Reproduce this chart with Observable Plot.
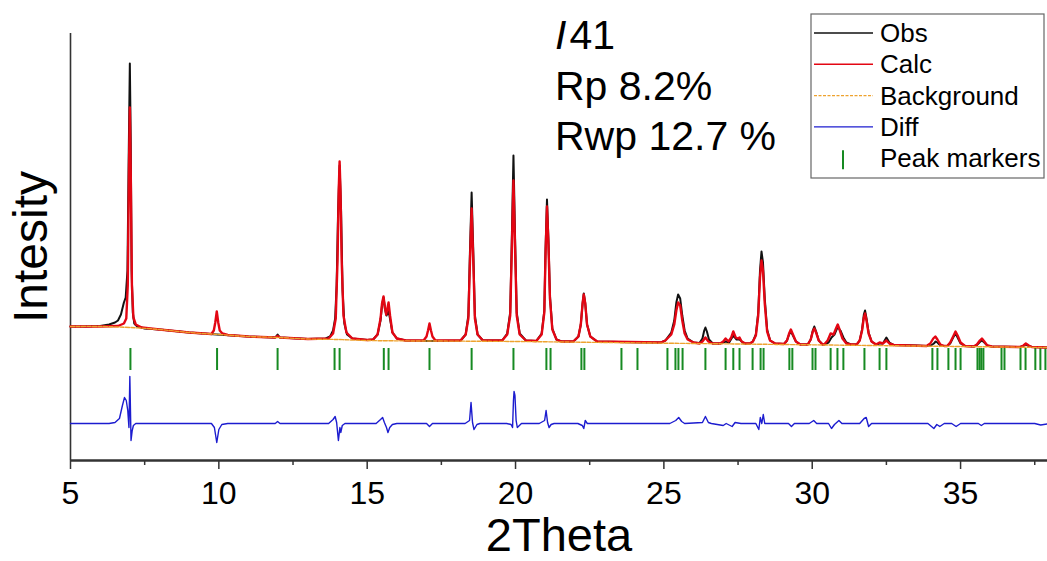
<!DOCTYPE html>
<html>
<head>
<meta charset="utf-8">
<script src="https://cdn.jsdelivr.net/npm/d3@7"></script>
<script src="https://cdn.jsdelivr.net/npm/@observablehq/plot@0.6"></script>
<style>
  html, body { margin: 0; padding: 0; background: #fff; }
  #chart { width: 1047px; height: 561px; }
</style>
</head>
<body>
<div id="chart"></div>
<script>
// ---- data (2Theta, intensity in arbitrary units) ----
const obs = [[5.0,134],[5.5,134],[6.0,134.5],[6.3,136],[6.5,138],[6.6,140],[6.7,146],[6.8,158],[6.86,163],[6.92,190],[6.96,300],[7.0,397],[7.03,320],[7.06,190],[7.1,148],[7.15,137],[7.25,134],[7.5,132],[8.0,131],[9.0,128],[9.93,126],[11.0,124],[11.9,123],[11.98,126],[12.06,123],[13.0,121.5],[13.6,122],[13.75,124],[13.85,130],[13.92,142],[13.97,175],[14.02,250],[14.07,295],[14.12,250],[14.17,170],[14.23,137],[14.32,126],[14.5,122],[15.0,120.5],[15.2,121],[15.35,126],[15.45,140],[15.5,155],[15.55,163],[15.6,152],[15.65,145],[15.72,150],[15.78,140],[15.85,128],[16.0,122],[16.3,120],[17.1,119.5],[18.15,120],[18.32,126],[18.41,145],[18.46,205],[18.52,268],[18.58,205],[18.63,145],[18.72,126],[18.9,120],[19.55,120],[19.72,127],[19.82,148],[19.87,215],[19.93,305],[19.99,215],[20.04,148],[20.14,127],[20.35,120],[20.7,119.5],[20.88,127],[20.97,150],[21.01,210],[21.06,261],[21.11,220],[21.16,165],[21.24,132],[21.38,121],[21.55,119],[21.95,119],[22.12,124],[22.2,136],[22.26,157],[22.3,167],[22.35,157],[22.41,136],[22.52,124],[22.75,119],[23.5,118.5],[24.5,118],[24.9,118],[25.05,120],[25.15,124],[25.25,128],[25.35,140],[25.42,158],[25.48,166],[25.55,162],[25.62,145],[25.7,130],[25.8,122],[26.0,118],[26.2,117.5],[26.3,122],[26.36,130],[26.4,133],[26.45,129],[26.52,121],[26.65,117],[26.9,117],[27.08,119],[27.2,118],[27.34,125],[27.45,121],[27.55,121],[27.7,117],[27.9,117],[28.0,119],[28.1,126],[28.18,148],[28.24,190],[28.29,209],[28.34,198],[28.4,162],[28.48,131],[28.58,120],[28.75,117],[29.05,116.5],[29.15,120],[29.22,126],[29.28,129],[29.35,125],[29.45,119],[29.6,116],[29.85,116],[29.95,121],[30.02,130],[30.07,134],[30.13,129],[30.22,120],[30.35,116],[30.4,116],[30.55,118],[30.65,123],[30.75,126],[30.82,131],[30.87,133],[30.95,130],[31.05,123],[31.15,118],[31.3,116],[31.5,116],[31.6,120],[31.68,131],[31.74,146],[31.78,150],[31.83,142],[31.9,128],[32.0,119],[32.1,117],[32.15,116],[32.27,117],[32.38,117],[32.5,123],[32.6,118],[32.75,115.5],[33.5,115],[33.85,114.5],[34.0,115],[34.1,117],[34.16,119],[34.22,118],[34.32,115],[34.45,114.5],[34.55,114.5],[34.65,117],[34.75,123],[34.83,127],[34.9,123],[35.0,117],[35.15,114.5],[35.45,114],[35.55,115.5],[35.65,118.5],[35.72,120],[35.8,118],[35.9,115],[36.05,114],[37.0,113.5],[37.12,114.5],[37.2,116],[37.3,114.5],[37.4,113.5],[37.93,113]];

const calc = [[5.0,134],[6.0,134],[6.6,134.5],[6.8,137],[6.88,142],[6.93,175],[6.97,290],[7.0,353],[7.03,290],[7.07,175],[7.12,143],[7.2,136],[7.4,133],[8.0,131],[9.0,128],[9.75,126.5],[9.83,130],[9.88,138],[9.93,149],[9.98,138],[10.03,130],[10.12,127],[10.3,125.5],[11.0,124],[11.9,123],[11.98,124.5],[12.06,123],[13.0,121.5],[13.7,122],[13.85,127],[13.94,142],[14.0,200],[14.04,270],[14.07,299],[14.1,270],[14.14,200],[14.2,145],[14.3,128],[14.5,122],[15.0,120.5],[15.2,121],[15.35,126],[15.45,142],[15.5,157],[15.55,164],[15.6,152],[15.64,146],[15.68,152],[15.72,158],[15.77,145],[15.85,128],[16.0,122],[16.3,120],[16.9,120],[17.0,124],[17.05,130],[17.1,137],[17.15,130],[17.2,124],[17.3,120],[18.15,120],[18.32,126],[18.41,142],[18.46,195],[18.52,252],[18.58,195],[18.63,142],[18.72,126],[18.9,120],[19.55,120],[19.72,126],[19.82,145],[19.87,205],[19.93,280],[19.99,205],[20.04,145],[20.14,126],[20.35,120],[20.7,119.5],[20.88,126],[20.97,148],[21.01,205],[21.06,254],[21.11,215],[21.16,162],[21.24,131],[21.38,121],[21.55,119],[21.95,119],[22.12,124],[22.2,136],[22.26,157],[22.3,166],[22.35,157],[22.41,136],[22.52,124],[22.75,119],[24.9,118],[25.05,120],[25.15,123],[25.25,126],[25.35,136],[25.42,150],[25.48,158],[25.55,155],[25.62,140],[25.7,127],[25.8,121],[26.0,118],[26.2,117],[26.3,119],[26.4,123],[26.5,119],[26.65,117],[26.9,117],[27.0,119],[27.08,122],[27.18,119],[27.27,123],[27.34,129],[27.42,123],[27.5,122],[27.55,123],[27.62,119],[27.75,117],[27.9,117],[28.0,119],[28.1,125],[28.18,145],[28.24,183],[28.29,200],[28.34,190],[28.4,157],[28.48,129],[28.58,120],[28.75,117],[29.05,116.5],[29.15,120],[29.22,127],[29.28,131],[29.35,126],[29.45,119],[29.6,116],[29.85,116],[29.95,121],[30.02,129],[30.07,132],[30.13,128],[30.22,120],[30.35,116],[30.4,116],[30.52,120],[30.62,127],[30.72,126],[30.8,132],[30.86,136],[30.92,131],[31.02,122],[31.15,117],[31.3,116],[31.5,116],[31.6,120],[31.68,130],[31.74,143],[31.78,147],[31.83,140],[31.9,127],[32.0,119],[32.1,117],[32.15,116],[32.27,118],[32.38,117],[32.5,120],[32.6,117],[32.75,115.5],[33.85,114.5],[33.98,117],[34.08,122],[34.15,124],[34.22,121],[34.32,116],[34.45,114.5],[34.55,114.5],[34.65,118],[34.75,124],[34.83,129],[34.9,125],[35.0,118],[35.15,114.5],[35.45,114],[35.55,116],[35.65,120],[35.72,122],[35.8,119],[35.9,115],[36.05,114],[37.0,113.5],[37.12,115],[37.2,117],[37.3,115],[37.4,113.5],[37.93,113]];

const background = [[5,134],[6,134],[7,133],[8,131],[9,128],[10,126],[11,124],[12,123],[13,121.5],[14,121],[15,120],[17,119.5],[20,119],[23,118],[26,117],[29,116],[32,115],[35,114],[37.93,113]];

const diff = [[5,37],[6.3,37],[6.5,38],[6.65,42],[6.75,55],[6.82,63],[6.88,60],[6.93,50],[6.97,33],[7.0,84],[7.04,20],[7.08,30],[7.12,35],[7.2,37],[8,37],[9.75,37],[9.85,33],[9.93,18],[10.0,31],[10.1,36],[10.3,37],[11.9,37],[11.98,39],[12.06,37],[13.7,37],[13.85,41],[13.92,44],[13.97,38],[14.03,20],[14.08,33],[14.11,28],[14.16,35],[14.25,37],[15.3,37],[15.45,41],[15.52,43],[15.58,38],[15.65,33],[15.7,28],[15.76,33],[15.85,36],[16,37],[17.0,37],[17.1,34],[17.2,37],[18.3,37],[18.45,40],[18.5,58],[18.55,38],[18.6,31],[18.7,36],[18.8,37],[19.7,37],[19.85,36],[19.9,33],[19.93,60],[19.95,69],[19.98,65],[20.02,40],[20.06,33],[20.2,37],[20.8,37],[20.98,40],[21.03,50],[21.08,38],[21.13,33],[21.2,36],[21.3,37],[22.1,37],[22.25,35],[22.3,32],[22.35,40],[22.42,37],[25.2,37],[25.4,40],[25.5,43],[25.6,39],[25.7,37],[26.3,38],[26.4,44],[26.5,38],[26.6,37],[27.0,35],[27.1,37],[27.3,34],[27.4,38],[27.6,37],[28.1,37],[28.2,31],[28.25,43],[28.3,37],[28.35,46],[28.4,37],[28.5,37],[29.2,37],[29.3,34],[29.4,37],[29.9,37],[30.05,40],[30.15,37],[30.55,37],[30.65,32],[30.75,36],[30.9,40],[31.0,37],[31.6,37],[31.75,42],[31.82,43],[31.9,34],[32.0,37],[33.9,37],[34.1,32],[34.2,36],[34.3,34],[34.45,37],[34.7,37],[34.85,34],[35.0,37],[35.6,37],[35.7,35],[35.8,37],[37.5,37],[37.7,35.5],[37.93,36.5]];

const peakMarkers = [7.02, 9.94, 11.98, 13.9, 14.07, 15.56, 15.72, 17.1, 18.52, 19.93, 21.04, 21.18, 22.22, 22.32, 23.57, 24.11, 25.12, 25.39, 25.49, 25.63, 26.4, 27.08, 27.34, 27.55, 27.99, 28.26, 28.36, 29.23, 29.33, 30.01, 30.11, 30.62, 30.85, 31.05, 31.76, 32.27, 32.5, 34.05, 34.22, 34.59, 34.83, 35.0, 35.57, 35.64, 35.7, 35.77, 36.38, 36.48, 37.02, 37.19, 37.52, 37.69, 37.86];

const xTicks = [5, 10, 15, 20, 25, 30, 35];
const xMinorTicks = [7.5, 12.5, 17.5, 22.5, 27.5, 32.5, 37.5];
const legendItems = ["Obs", "Calc", "Background", "Diff", "Peak markers"];
const annotations = ["Rp 8.2%", "Rwp 12.7 %"];

const COL = {obs: "#111111", calc: "#e30613", bg: "#eea22e", diff: "#1c1ccf", peak: "#178a22", axis: "#333333"};
const FONT = "'Liberation Sans', Arial, Helvetica, sans-serif";

const X = d => d[0], Y = d => d[1];

const plot = Plot.plot({
  width: 1047,
  height: 561,
  marginLeft: 70,
  marginRight: 0,
  marginTop: 33,
  marginBottom: 101,
  style: {fontFamily: FONT, background: "#fff", color: "#000"},
  x: {domain: [5, 37.93]},
  y: {domain: [0, 427], axis: null},
  marks: [
    Plot.ruleX([5], {stroke: COL.axis, strokeWidth: 1.6}),
    Plot.ruleY([0], {stroke: COL.axis, strokeWidth: 2.6}),
    Plot.axisX({ticks: xMinorTicks, tickSize: 5, tickFormat: () => "", stroke: COL.axis, strokeWidth: 1.5, label: null}),
    Plot.axisX({ticks: xTicks, tickSize: 9, tickPadding: 12, fontSize: 32, stroke: COL.axis, strokeWidth: 1.5, fill: "#000", label: null}),
    Plot.ruleX(peakMarkers, {x: d => d, y1: 90, y2: 112, stroke: COL.peak, strokeWidth: 2}),
    Plot.line(diff, {x: X, y: Y, stroke: COL.diff, strokeWidth: 1.4}),
    Plot.line(obs, {x: X, y: Y, stroke: COL.obs, strokeWidth: 2}),
    Plot.line(calc, {x: X, y: Y, stroke: COL.calc, strokeWidth: 2.4}),
    Plot.line(background, {x: X, y: Y, stroke: COL.bg, strokeWidth: 1.4, strokeDasharray: "4,1.5", curve: "natural"}),
    Plot.text(["Intesity"], {frameAnchor: "left", dx: -39, rotate: -90, textAnchor: "middle", fontSize: 48, fill: "#000"}),
    Plot.text(["2Theta"], {frameAnchor: "bottom", dy: 57, lineAnchor: "top", textAnchor: "middle", fontSize: 47, fill: "#000"})
  ]
});

document.getElementById("chart").appendChild(plot);

// ---- annotation text ----
const svg = d3.select(plot);
const ann = svg.append("g").attr("font-family", FONT).attr("font-size", 41)
  .attr("fill", "#000").attr("text-anchor", "start");
const t1 = ann.append("text").attr("x", 555).attr("y", 49);
t1.append("tspan").attr("font-style", "italic").text("I");
t1.append("tspan").attr("dx", 3).text("41");
annotations.forEach((s, i) => {
  ann.append("text").attr("x", 555).attr("y", 100 + i * 50).text(s);
});

// ---- legend ----
const lg = svg.append("g").attr("font-family", FONT).attr("font-size", 26).attr("text-anchor", "start");
lg.append("rect").attr("x", 811).attr("y", 14).attr("width", 233).attr("height", 164)
  .attr("fill", "#fff").attr("stroke", "#666").attr("stroke-width", 1.2);
const lgStyles = [
  {stroke: COL.obs, w: 1.6, dash: null},
  {stroke: COL.calc, w: 1.6, dash: null},
  {stroke: COL.bg, w: 1.2, dash: "3,1.5"},
  {stroke: COL.diff, w: 1.4, dash: null},
  {stroke: COL.peak, w: 2, dash: null, marker: true}
];
legendItems.forEach((name, i) => {
  const base = 42 + i * 31.3;
  const st = lgStyles[i];
  if (st.marker) {
    lg.append("line").attr("x1", 843).attr("x2", 843).attr("y1", base - 17).attr("y2", base + 2)
      .attr("stroke", st.stroke).attr("stroke-width", st.w);
  } else {
    lg.append("line").attr("x1", 814).attr("x2", 873).attr("y1", base - 9).attr("y2", base - 9)
      .attr("stroke", st.stroke).attr("stroke-width", st.w).attr("stroke-dasharray", st.dash);
  }
  lg.append("text").attr("x", 880).attr("y", base).attr("fill", "#000").text(name);
});
</script>
</body>
</html>
